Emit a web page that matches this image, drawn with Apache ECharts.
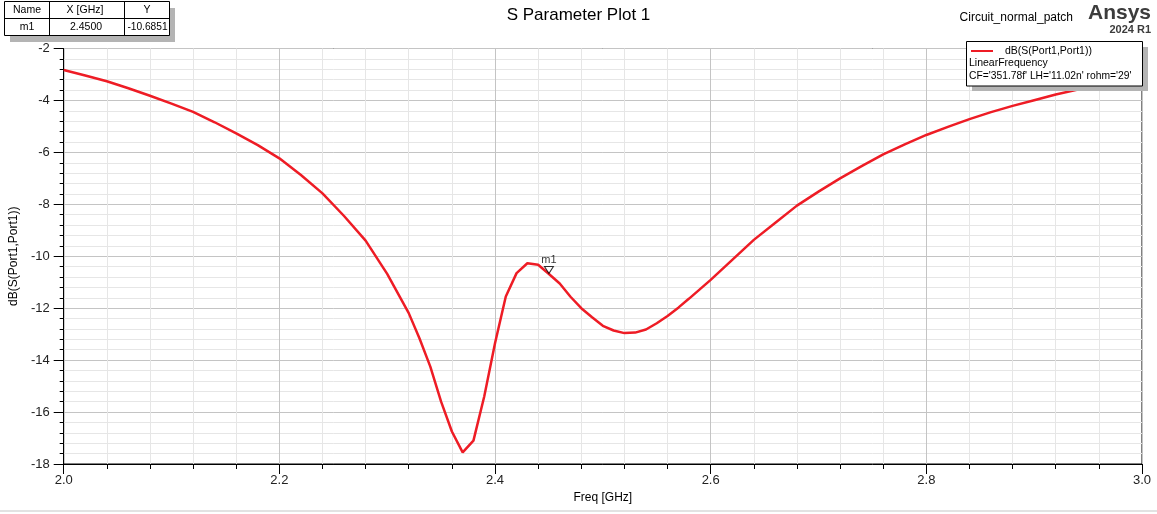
<!DOCTYPE html>
<html>
<head>
<meta charset="utf-8">
<script src="https://cdn.jsdelivr.net/npm/echarts@6/dist/echarts.min.js"></script>
<style>
html,body{margin:0;padding:0;background:#fff;}
#c{width:1157px;height:514px;}
</style>
</head>
<body>
<div id="c"></div>
<script>
// Frequency points (GHz)
var freq = [2.00, 2.02, 2.04, 2.06, 2.08, 2.10, 2.12, 2.14, 2.16, 2.18, 2.20, 2.22, 2.24, 2.26, 2.28, 2.30, 2.32, 2.33, 2.34, 2.35, 2.36, 2.37, 2.38, 2.39, 2.40, 2.41, 2.42, 2.43, 2.44, 2.45, 2.46, 2.47, 2.48, 2.49, 2.50, 2.51, 2.52, 2.53, 2.54, 2.55, 2.56, 2.57, 2.58, 2.60, 2.62, 2.64, 2.66, 2.68, 2.70, 2.72, 2.74, 2.76, 2.78, 2.80, 2.82, 2.84, 2.86, 2.88, 2.90, 2.92, 2.96, 3.00];
// dB(S(Port1,Port1))
var s11 = [-2.83, -3.04, -3.26, -3.53, -3.82, -4.12, -4.44, -4.84, -5.27, -5.72, -6.23, -6.87, -7.58, -8.45, -9.40, -10.68, -12.19, -13.17, -14.25, -15.60, -16.75, -17.55, -17.10, -15.40, -13.35, -11.55, -10.65, -10.27, -10.33, -10.685, -11.05, -11.56, -12.00, -12.35, -12.68, -12.86, -12.96, -12.94, -12.82, -12.58, -12.30, -11.98, -11.63, -10.91, -10.14, -9.37, -8.71, -8.05, -7.51, -7.00, -6.53, -6.08, -5.69, -5.33, -5.02, -4.72, -4.45, -4.21, -3.99, -3.77, -3.40, -3.08];
// Marker m1
var markerName = ['m1'];
var markerX = [2.45];
var markerY = [-10.6851];
// Axis ticks
var xTicks = [2.0, 2.2, 2.4, 2.6, 2.8, 3.0];
var yTicks = [-18, -16, -14, -12, -10, -8, -6, -4, -2];

var FONT = 'Liberation Sans, Arial, sans-serif';
var chart = echarts.init(document.getElementById('c'));
var lineData = freq.map(function (f, i) { return [f, s11[i]]; });
var markerData = markerX.map(function (x, i) { return { value: [x, markerY[i]], name: markerName[i] }; });

function T(x, y, text, align, size, extra) {
  var st = { x: x, y: y, text: text, textAlign: align || 'left', textVerticalAlign: 'middle',
    fontFamily: FONT, fontSize: size || 10.5, fill: '#000' };
  if (extra) { for (var k in extra) st[k] = extra[k]; }
  return { type: 'text', zlevel: 1, z: 10, style: st };
}
function R(x, y, w, h, fill, stroke) {
  return { type: 'rect', zlevel: 1, z: 5, shape: { x: x, y: y, width: w, height: h },
    style: { fill: fill, stroke: stroke || null, lineWidth: 1 } };
}
function L(x1, y1, x2, y2, color, w) {
  return { type: 'line', zlevel: 1, z: 8, shape: { x1: x1, y1: y1, x2: x2, y2: y2 },
    style: { stroke: color, lineWidth: w || 1 } };
}

var option = {
  backgroundColor: '#ffffff',
  animation: false,
  title: {
    text: 'S Parameter Plot 1',
    left: 'center',
    top: 2,
    textStyle: { fontFamily: FONT, fontSize: 17, fontWeight: 'normal', color: '#000' }
  },
  grid: {
    left: 61.5, right: 15, top: 48.5, bottom: 50,
    show: true, borderColor: '#000', borderWidth: 1, backgroundColor: 'transparent'
  },
  xAxis: {
    type: 'value',
    min: xTicks[0], max: xTicks[xTicks.length - 1], interval: 0.2,
    name: 'Freq [GHz]', nameLocation: 'middle', nameGap: 27,
    nameTextStyle: { fontFamily: FONT, fontSize: 12, color: '#000' },
    axisLine: { show: true, lineStyle: { color: '#000', width: 1 } },
    axisTick: { show: true, length: 10, lineStyle: { color: '#000' } },
    minorTick: { show: true, splitNumber: 5, length: 5, lineStyle: { color: '#000' } },
    axisLabel: { fontFamily: FONT, fontSize: 13, color: '#222', margin: 10,
      formatter: function (v) { return v.toFixed(1); } },
    splitLine: { show: true, lineStyle: { color: '#c4c4c4', width: 1 } },
    minorSplitLine: { show: true, lineStyle: { color: '#e6e6e6', width: 1 } }
  },
  yAxis: {
    type: 'value',
    min: yTicks[0], max: yTicks[yTicks.length - 1], interval: 2,
    name: 'dB(S(Port1,Port1))', nameLocation: 'middle', nameGap: 38,
    nameTextStyle: { fontFamily: FONT, fontSize: 12, color: '#000' },
    axisLine: { show: true, lineStyle: { color: '#000', width: 1 } },
    axisTick: { show: true, length: 10, lineStyle: { color: '#000' } },
    minorTick: { show: true, splitNumber: 5, length: 4, lineStyle: { color: '#000' } },
    axisLabel: { fontFamily: FONT, fontSize: 13, color: '#222', margin: 14 },
    splitLine: { show: true, lineStyle: { color: '#c4c4c4', width: 1 } },
    minorSplitLine: { show: true, lineStyle: { color: '#e6e6e6', width: 1 } }
  },
  series: [
    {
      type: 'line',
      name: 'dB(S(Port1,Port1))',
      data: lineData,
      showSymbol: false,
      smooth: false,
      lineStyle: { color: '#ee1c25', width: 2.5 },
      z: 3
    },
    {
      type: 'scatter',
      data: markerData,
      symbol: 'path://M0,0 L10,0 L5,8 Z',
      symbolSize: [9, 7],
      symbolOffset: [0, -4],
      itemStyle: { color: 'rgba(0,0,0,0)', borderColor: '#000', borderWidth: 1 },
      label: { show: true, position: 'top', distance: 1, formatter: '{b}',
        fontFamily: FONT, fontSize: 11, color: '#000' },
      z: 4
    }
  ],
  graphic: [
    // bottom gray strip
    { type: 'rect', shape: { x: 0, y: 510, width: 1157, height: 2 }, style: { fill: '#e2e2e2' }, z: 1 },
    // marker table
    R(10, 8, 165, 34, '#b4b4b4'),
    R(4.5, 1.5, 165, 34, '#fff', '#000'),
    L(4.5, 18.5, 169.5, 18.5, '#000'),
    L(49.5, 1.5, 49.5, 35.5, '#000'),
    L(124.5, 1.5, 124.5, 35.5, '#000'),
    T(27, 10, 'Name', 'center'),
    T(85, 10, 'X [GHz]', 'center'),
    T(147, 10, 'Y', 'center'),
    T(27, 27.5, markerName[0], 'center'),
    T(86, 27.5, markerX[0].toFixed(4), 'center'),
    T(147.5, 27.5, markerY[0].toFixed(4), 'center', 10.2),
    // design name + logo
    T(1073, 18, 'Circuit_normal_patch', 'right', 12),
    T(1151, 13, 'Ansys', 'right', 21, { fontWeight: 'bold', fill: '#3c3c3c' }),
    T(1151, 30, '2024 R1', 'right', 11, { fontWeight: 'bold', fill: '#3c3c3c' }),
    // legend box
    R(972, 47, 176, 44, '#b4b4b4'),
    R(966.5, 41.5, 176, 44.5, '#fff', '#000'),
    L(971, 51, 993, 51, '#ee1c25', 2),
    T(1005, 51, 'dB(S(Port1,Port1))', 'left'),
    T(969, 63.5, 'LinearFrequency', 'left'),
    T(969, 76.5, "CF='351.78f' LH='11.02n' rohm='29'", 'left', 10.3)
  ]
};
chart.setOption(option);
</script>
</body>
</html>
